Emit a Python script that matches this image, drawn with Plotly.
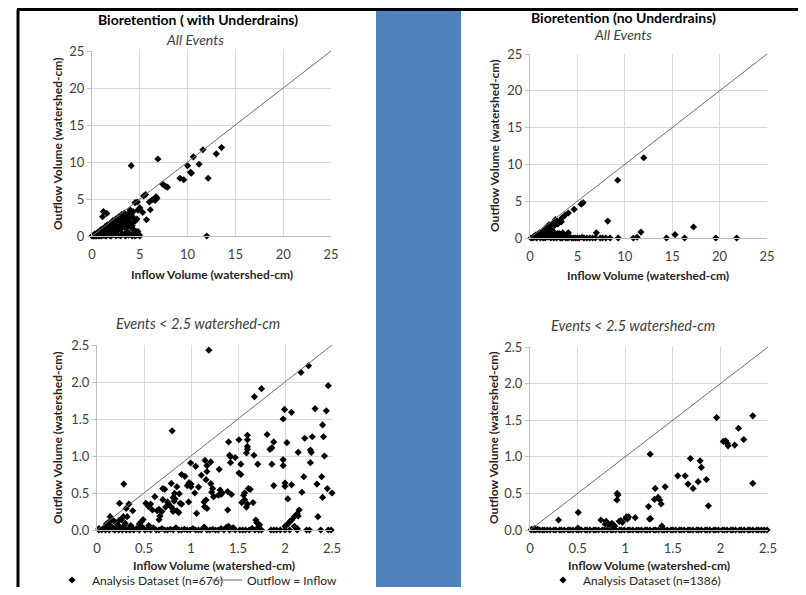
import plotly.graph_objects as go

# ---------------- data ----------------
# Top-left: Bioretention with underdrains, all events
tl_x = [4.1, 6.9, 10.6, 11.6, 13.0, 13.55, 11.2, 10.0, 10.3, 10.4, 9.2, 9.6, 12.15, 7.4, 7.7, 7.9, 12.0,
        6.0, 6.3, 6.5, 6.7, 6.8, 6.1, 6.6, 5.4, 5.6, 4.5, 4.75, 5.7, 1.2, 1.55, 1.1, 5.3, 5.0, 4.8,
        0.1, 0.2, 0.3, 0.4, 0.5, 0.6, 0.7, 0.8, 0.9, 1.0, 1.1, 1.2, 1.3, 1.4, 1.5, 1.6, 1.7, 1.8, 1.9,
        2.0, 2.1, 2.2, 2.3, 2.4, 2.5, 2.6, 2.7, 2.8, 2.9, 3.0, 3.1, 3.2, 3.3, 3.4, 3.5, 3.6, 3.7, 3.8,
        3.9, 4.0, 4.1, 4.2, 4.3, 4.4, 4.5, 4.6, 4.7, 4.8, 4.5, 4.9, 5.0,
        0.3, 0.6, 0.9, 1.2, 1.4, 1.6, 1.9, 2.2, 2.5, 2.8, 3.1, 3.4, 3.0, 2.7, 2.0, 1.7, 1.3, 0.8, 0.5,
        1.0, 1.5, 2.0, 2.5, 3.0, 4.2, 4.4, 3.9, 3.6, 3.3, 2.4, 2.1, 1.8, 2.9, 3.7, 4.1, 3.5, 2.6, 2.3,
        1.1, 0.7, 0.2, 0.0, 0.4, 3.8, 4.6, 4.7, 4.3, 4.0, 3.2, 2.2, 1.5, 1.0, 1.4, 2.8, 3.6, 4.7, 4.2]
tl_y = [9.5, 10.4, 10.7, 11.65, 11.1, 11.95, 9.7, 9.5, 8.6, 8.5, 7.8, 7.6, 7.8, 7.0, 6.7, 6.6, 0.0,
        4.6, 4.9, 5.0, 5.3, 5.1, 3.55, 4.8, 5.4, 5.6, 4.5, 4.6, 2.2, 3.3, 3.05, 2.6, 3.2, 3.8, 3.5,
        0.0, 0.05, 0.1, 0.0, 0.2, 0.1, 0.3, 0.0, 0.5, 0.2, 0.7, 0.1, 0.4, 0.0, 0.9, 0.3, 1.2, 0.6, 0.0,
        1.5, 0.8, 0.2, 1.8, 1.1, 0.5, 2.0, 1.4, 0.1, 2.4, 0.9, 1.7, 0.3, 2.6, 1.2, 0.0, 2.2, 0.6, 3.0,
        1.5, 0.2, 2.8, 1.0, 3.3, 0.4, 2.0, 0.3, 0.1, 0.6, 0.0, 0.2, 0.0,
        0.3, 0.5, 0.8, 1.0, 1.3, 1.5, 1.7, 2.1, 2.3, 2.6, 2.9, 3.1, 2.5, 2.2, 1.0, 0.8, 0.6, 0.4, 0.0,
        0.0, 0.0, 0.0, 0.0, 0.0, 0.0, 0.8, 2.3, 1.9, 1.6, 1.6, 1.3, 1.1, 1.0, 1.3, 1.7, 0.4, 0.7, 0.4,
        0.3, 0.0, 0.0, 0.0, 0.2, 0.1, 0.6, 0.4, 2.5, 3.5, 2.0, 1.7, 0.5, 0.9, 0.8, 1.9, 2.7, 2.3, 1.4]

# Top-right: Bioretention without underdrains, all events
tr_x = [12.0, 9.25, 8.2, 17.25, 11.7, 15.3, 14.4, 16.3, 19.6, 21.8, 10.9, 11.3, 9.3, 8.45, 8.0, 7.4,
        6.9, 6.3, 5.7, 7.0, 7.65, 6.6, 6.0, 5.5, 5.6, 5.4, 4.65, 4.05, 3.7, 3.35, 3.2, 2.7, 3.45, 4.05,
        2.5, 3.0, 2.9, 3.3,
        0.1, 0.3, 0.5, 0.7, 0.9, 1.1, 1.2, 1.4, 1.5, 1.6, 1.7, 1.8, 1.9, 2.0, 2.1, 2.2, 2.3, 2.4, 2.5,
        2.6, 2.7, 2.8, 3.0, 3.2, 3.4, 3.6, 3.8, 4.0, 4.2, 4.4, 4.6, 4.8, 5.0, 5.2, 1.0, 0.8, 0.6, 1.3,
        2.0, 1.6, 2.4, 1.4, 0.4, 2.9, 3.1, 3.9, 2.2]
tr_y = [10.9, 7.85, 2.3, 1.5, 0.8, 0.45, 0.0, 0.0, 0.0, 0.0, 0.0, 0.1, 0.0, 0.0, 0.0, 0.0,
        0.0, 0.0, 0.0, 0.7, 0.0, 0.0, 0.0, 0.1, 4.8, 4.6, 3.9, 3.4, 3.1, 2.7, 2.3, 2.5, 0.7, 0.7,
        0.8, 2.0, 1.9, 2.2,
        0.0, 0.0, 0.1, 0.0, 0.3, 0.0, 0.6, 0.2, 1.0, 0.0, 0.5, 1.3, 0.1, 0.8, 1.6, 0.0, 1.1, 0.3, 0.0,
        1.7, 0.5, 0.0, 0.2, 0.0, 0.0, 0.1, 0.0, 0.0, 0.1, 0.0, 0.0, 0.0, 0.0, 0.0, 0.7, 0.5, 0.4, 0.9,
        1.8, 1.3, 2.0, 0.0, 0.2, 0.6, 0.6, 0.5, 0.6]

# Bottom-left: with underdrains, events < 2.5 watershed-cm
bl_x = [1.19, 0.80, 0.285, 1.675, 1.75, 2.17, 2.25, 2.46, 2.44, 2.32, 1.995, 2.07, 1.98, 2.40, 2.41,
        2.29, 2.21, 1.81, 1.88, 2.02, 1.60, 1.60, 1.51, 1.40, 1.84, 1.86, 1.60, 1.60, 1.59, 1.67, 2.27,
        2.28, 2.27, 2.14, 2.42, 1.98, 1.98, 1.86, 1.71, 1.41, 1.42, 1.47, 1.42, 1.53, 1.15, 1.21, 1.17,
        1.17, 0.996, 1.05, 1.30, 0.90, 0.935, 0.98, 0.96, 1.0, 1.11, 1.16, 1.21, 1.23, 1.31, 1.33, 1.29,
        1.39, 1.43, 1.51, 1.53, 1.63, 1.61, 1.57, 1.56, 1.60, 1.59, 1.66, 1.54, 1.57, 1.39, 1.88, 2.0,
        2.0, 2.07, 2.03, 2.13, 2.15, 2.14, 2.10, 2.07, 2.05, 2.03, 2.0, 2.2, 2.39, 2.34, 2.40, 2.45, 2.5,
        2.35, 2.18, 1.69, 1.70, 1.72,
        0.24, 0.34, 0.31, 0.38, 0.28, 0.26, 0.24, 0.32, 0.16, 0.49, 0.47, 0.52, 0.57, 0.55, 0.59, 0.615,
        0.64, 0.66, 0.70, 0.70, 0.72, 0.69, 0.67, 0.66, 0.73, 0.75, 0.76, 0.79, 0.81, 0.81, 0.79, 0.81,
        0.825, 0.85, 0.85, 0.87, 0.875, 0.885, 0.90, 0.82, 0.83, 0.975, 1.0, 1.04, 1.06, 1.08, 1.14,
        1.16, 1.145, 1.17, 1.22, 1.24, 1.32,
        0.02, 0.05, 0.07, 0.09, 0.11, 0.13, 0.15, 0.17, 0.19, 0.21, 0.23, 0.25, 0.27, 0.29, 0.31, 0.33,
        0.35, 0.37, 0.39, 0.42, 0.45, 0.48, 0.51, 0.54, 0.57, 0.60, 0.63, 0.66, 0.69, 0.72, 0.75, 0.78,
        0.81, 0.84, 0.87, 0.90, 0.93, 0.96, 0.99, 1.02, 1.05, 1.08, 1.11, 1.14, 1.17, 1.20, 1.23, 1.26,
        1.29, 1.32, 1.35, 1.38, 1.41, 1.44, 1.47, 1.52, 1.55, 1.58, 1.62, 1.65, 1.68, 1.72, 1.75, 1.85,
        1.88, 1.91, 1.95, 2.0, 2.05, 2.13, 2.13, 2.23, 2.26, 2.38, 2.46, 2.49,
        0.14, 0.18, 0.10, 0.22, 0.30, 0.12, 0.36, 0.45, 0.55, 0.02, 1.40, 1.45, 1.73, 2.10, 2.12]
bl_y = [2.43, 1.34, 0.62, 1.80, 1.91, 2.13, 2.22, 1.95, 1.61, 1.64, 1.63, 1.59, 1.50, 1.42, 1.26,
        1.26, 1.24, 1.29, 1.19, 1.18, 1.28, 1.22, 1.22, 1.19, 1.09, 1.11, 1.13, 1.09, 1.04, 1.01, 1.08,
        1.05, 0.91, 1.05, 1.0, 0.95, 0.87, 0.89, 0.89, 1.01, 0.99, 0.98, 0.91, 0.89, 0.94, 0.92, 0.87,
        0.79, 0.905, 0.86, 0.82, 0.75, 0.725, 0.64, 0.60, 0.62, 0.74, 0.68, 0.626, 0.56, 0.54, 0.50, 0.47,
        0.52, 0.48, 0.77, 0.75, 0.55, 0.56, 0.50, 0.47, 0.35, 0.31, 0.37, 0.37, 0.41, 0.27, 0.60, 0.635,
        0.59, 0.61, 0.42, 0.22, 0.27, 0.19, 0.18, 0.135, 0.11, 0.08, 0.05, 0.72, 0.72, 0.62, 0.44, 0.56, 0.50,
        0.18, 0.51, 0.135, 0.10, 0.045,
        0.36, 0.35, 0.29, 0.26, 0.18, 0.14, 0.135, 0.18, 0.14, 0.14, 0.11, 0.36, 0.35, 0.315, 0.27, 0.45,
        0.26, 0.28, 0.41, 0.56, 0.55, 0.25, 0.19, 0.14, 0.31, 0.38, 0.35, 0.31, 0.28, 0.25, 0.63, 0.44,
        0.495, 0.585, 0.26, 0.235, 0.49, 0.36, 0.35, 0.39, 0.42, 0.38, 0.585, 0.50, 0.225, 0.58, 0.38,
        0.405, 0.315, 0.29, 0.51, 0.45, 0.48,
        0.0, 0.0, 0.02, 0.0, 0.03, 0.0, 0.05, 0.01, 0.0, 0.04, 0.0, 0.02, 0.0, 0.06, 0.0, 0.01,
        0.0, 0.03, 0.0, 0.02, 0.0, 0.04, 0.0, 0.01, 0.0, 0.03, 0.0, 0.0, 0.02, 0.0, 0.0, 0.01,
        0.0, 0.03, 0.0, 0.0, 0.01, 0.0, 0.0, 0.02, 0.0, 0.0, 0.0, 0.04, 0.0, 0.0, 0.01, 0.0,
        0.0, 0.02, 0.0, 0.04, 0.0, 0.02, 0.0, 0.0, 0.0, 0.0, 0.0, 0.02, 0.0, 0.0, 0.0, 0.0,
        0.0, 0.0, 0.0, 0.0, 0.0, 0.0, 0.02, 0.0, 0.0, 0.0, 0.0, 0.0,
        0.18, 0.12, 0.08, 0.07, 0.09, 0.10, 0.06, 0.08, 0.06, 0.02, 0.05, 0.03, 0.07, 0.05, 0.02]

# Bottom-right: without underdrains, events < 2.5 watershed-cm
br_x = [0.30, 0.507, 0.503, 0.745, 0.80, 0.815, 0.79, 0.86, 0.874, 0.89, 0.83, 0.916, 0.923, 0.913,
        0.955, 0.97, 0.937, 1.014, 1.035, 1.007, 1.024, 1.105, 1.262, 1.245, 1.255, 1.266, 1.315, 1.308,
        1.346, 1.364, 1.378, 1.42, 1.385, 1.552, 1.63, 1.66, 1.685, 1.713, 1.766, 1.787, 1.80, 1.853,
        1.874, 1.96, 2.03, 2.056, 2.073, 2.08, 2.15, 2.19, 2.245, 2.34, 2.34,
        0.01, 0.04, 0.06, 0.10, 0.13, 0.15, 0.18, 0.21, 0.25, 0.27, 0.31, 0.33, 0.36, 0.40, 0.42, 0.45,
        0.49, 0.51, 0.54, 0.58, 0.60, 0.63, 0.67, 0.69, 0.72, 0.76, 0.78, 0.81, 0.85, 0.87, 0.90, 0.94,
        0.96, 0.99, 1.03, 1.05, 1.08, 1.12, 1.14, 1.17, 1.21, 1.23, 1.26, 1.30, 1.32, 1.35, 1.39, 1.41,
        1.44, 1.48, 1.50, 1.53, 1.57, 1.59, 1.62, 1.66, 1.68, 1.71, 1.75, 1.77, 1.80, 1.84, 1.86, 1.89,
        1.93, 1.95, 1.98, 2.02, 2.04, 2.07, 2.11, 2.13, 2.16, 2.20, 2.22, 2.25, 2.29, 2.31, 2.34, 2.38,
        2.40, 2.43, 2.46, 2.49, 0.02, 0.05, 0.08]
br_y = [0.136, 0.24, 0.027, 0.136, 0.12, 0.09, 0.08, 0.09, 0.068, 0.055, 0.073, 0.50, 0.477, 0.41,
        0.127, 0.105, 0.118, 0.18, 0.18, 0.16, 0.15, 0.168, 1.036, 0.32, 0.15, 0.155, 0.568, 0.418,
        0.445, 0.41, 0.355, 0.59, 0.055, 0.74, 0.74, 0.627, 0.977, 0.568, 0.66, 0.945, 0.855, 0.69,
        0.33, 1.536, 1.21, 1.218, 1.18, 1.15, 1.16, 1.39, 1.236, 1.56, 0.636,
        0.0, 0.0, 0.0, 0.0, 0.0, 0.0, 0.0, 0.0, 0.0, 0.0, 0.0, 0.0, 0.0, 0.0, 0.0, 0.0,
        0.0, 0.0, 0.0, 0.0, 0.0, 0.0, 0.0, 0.0, 0.0, 0.0, 0.0, 0.0, 0.0, 0.0, 0.0, 0.0,
        0.0, 0.0, 0.0, 0.0, 0.0, 0.0, 0.0, 0.0, 0.0, 0.0, 0.0, 0.0, 0.0, 0.0, 0.0, 0.0,
        0.0, 0.0, 0.0, 0.0, 0.0, 0.0, 0.0, 0.0, 0.0, 0.0, 0.0, 0.0, 0.0, 0.0, 0.0, 0.0,
        0.0, 0.0, 0.0, 0.0, 0.0, 0.0, 0.0, 0.0, 0.0, 0.0, 0.0, 0.0, 0.0, 0.0, 0.0, 0.0,
        0.0, 0.0, 0.0, 0.0, 0.01, 0.02, 0.01]

all_max = 25
small_max = 2.5
all_ticks = [0, 5, 10, 15, 20, 25]
small_ticks = [0, 0.5, 1, 1.5, 2, 2.5]

legend_scatter_left = "Analysis Dataset (n=676)"
legend_scatter_right = "Analysis Dataset (n=1386)"
legend_line = "Outflow = Inflow"

# ---------------- figure ----------------
# The page keeps the default 8px body margin, so the figure is 16px smaller than
# the window and every screen position s maps to figure position s - 8.
OFF = 8
W, H = 806 - 2 * OFF, 595 - 2 * OFF
FONT = "Lato"
def px(s):
    return (s - OFF) / W
def py(s):
    return 1 - (s - OFF) / H

fig = go.Figure()

marker = dict(symbol="diamond", size=5.5, color="#000000", line=dict(width=0))
line_style = dict(color="#6e6e6e", width=1)

panels = [
    ("x", "y", tl_x, tl_y, all_max, None),
    ("x2", "y2", tr_x, tr_y, all_max, None),
    ("x3", "y3", bl_x, bl_y, small_max, "legend"),
    ("x4", "y4", br_x, br_y, small_max, "legend2"),
]
for xa, ya, xs, ys, mx, leg in panels:
    fig.add_trace(go.Scatter(
        x=xs, y=ys, mode="markers", marker=marker, xaxis=xa, yaxis=ya, cliponaxis=False,
        name=legend_scatter_left if leg == "legend" else legend_scatter_right,
        showlegend=leg is not None, legend=leg if leg else "legend"))
    fig.add_trace(go.Scatter(
        x=[0, mx], y=[0, mx], mode="lines", line=line_style, xaxis=xa, yaxis=ya,
        name=legend_line, showlegend=(leg == "legend"), legend="legend", hoverinfo="skip"))

domains = {
    "": ([px(92), px(331)], [py(236), py(51)]),
    "2": ([px(530), px(767)], [py(238), py(54)]),
    "3": ([px(97), px(332)], [py(530), py(345)]),
    "4": ([px(530), px(768)], [py(530), py(347)]),
}
tickfont = dict(family=FONT, size=13, color="#404040")
for k, (dx, dy) in domains.items():
    small = k in ("3", "4")
    mx = small_max if small else all_max
    ticks = small_ticks if small else all_ticks
    fig.layout["xaxis" + k] = dict(
        domain=dx, range=[0, mx], tickvals=ticks,
        ticktext=[("%g" % t) for t in ticks],
        showgrid=True, gridcolor="#d9d9d9", gridwidth=1, zeroline=False,
        showline=True, linecolor="#bfbfbf", linewidth=1,
        ticks="outside", ticklen=6, tickcolor="rgba(0,0,0,0)", automargin=False,
        tickfont=tickfont, anchor="y" + k, fixedrange=True)
    fig.layout["yaxis" + k] = dict(
        domain=dy, range=[0, mx], tickvals=ticks,
        ticktext=[("%.1f" % t) if small else ("%g" % t) for t in ticks],
        showgrid=True, gridcolor="#d9d9d9", gridwidth=1, zeroline=False,
        showline=True, linecolor="#bfbfbf", linewidth=1,
        ticks="outside", ticklen=4, tickcolor="#bfbfbf", automargin=False,
        tickfont=tickfont, anchor="x" + k, fixedrange=True)

ann = []
def text(t, x, y, size, angle=0, color="#000000"):
    ann.append(dict(text=t, x=px(x), y=py(y), xref="paper", yref="paper", showarrow=False,
                    xanchor="center", yanchor="middle", textangle=angle,
                    font=dict(family=FONT, size=size, color=color)))

text("<b>Bioretention ( with Underdrains)</b>", 198, 20, 14)
text("<i>All Events</i>", 195, 39, 14, color="#404040")
text("<b>Bioretention (no Underdrains)</b>", 623, 17, 14)
text("<i>All Events</i>", 623, 35, 14, color="#404040")
text("<i>Events &lt; 2.5 watershed-cm</i>", 198, 323, 14.5, color="#404040")
text("<i>Events &lt; 2.5 watershed-cm</i>", 633, 325, 14.5, color="#404040")
for (x, y) in [(212, 274), (648, 276), (214, 565), (649, 565)]:
    text("<b>Inflow Volume (watershed-cm)</b>", x, y, 12, color="#262626")
for (x, y) in [(57, 144), (495, 146), (57, 438), (493, 438)]:
    text("<b>Outflow Volume (watershed-cm)</b>", x, y, 12, angle=-90, color="#262626")

shapes = [
    dict(type="rect", xref="paper", yref="paper", x0=px(376), x1=px(461), y0=0, y1=py(10),
         fillcolor="#4f81bd", line=dict(width=0), layer="below"),
    dict(type="line", xref="paper", yref="paper", x0=px(17), x1=1, y0=py(9.5), y1=py(9.5),
         line=dict(color="#000000", width=3)),
    dict(type="line", xref="paper", yref="paper", x0=px(18), x1=px(18), y0=0, y1=py(9.5),
         line=dict(color="#000000", width=3)),
]

fig.update_layout(
    width=W, height=H, margin=dict(l=0, r=0, t=0, b=0, autoexpand=False),
    paper_bgcolor="white", plot_bgcolor="white",
    annotations=ann, shapes=shapes, hovermode=False,
    legend=dict(orientation="h", x=px(52), y=py(580), xanchor="left", yanchor="middle",
                font=dict(family=FONT, size=12, color="#262626"), bgcolor="rgba(0,0,0,0)",
                itemwidth=30, entrywidth=110, entrywidthmode="pixels"),
    legend2=dict(orientation="h", x=px(543), y=py(580), xanchor="left", yanchor="middle",
                 font=dict(family=FONT, size=12, color="#262626"), bgcolor="rgba(0,0,0,0)",
                 itemwidth=30),
)

fig.write_html("out.html", config={"displayModeBar": False})
